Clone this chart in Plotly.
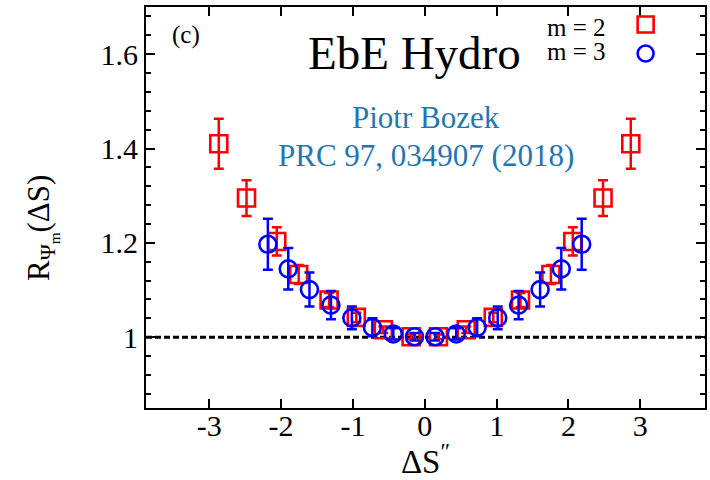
import plotly.graph_objects as go

# ---- data ----
m2_x = [-2.867, -2.481, -2.06, -1.755, -1.332, -0.953, -0.577, -0.19,
        0.19, 0.577, 0.953, 1.332, 1.755, 2.06, 2.481, 2.867]
m2_y = [1.41, 1.295, 1.203, 1.133, 1.079, 1.042, 1.016, 1.001,
        1.001, 1.016, 1.042, 1.079, 1.133, 1.203, 1.295, 1.41]
m2_err = [0.053, 0.038, 0.03, 0.02, 0.015, 0.01, 0.007, 0.005,
          0.005, 0.007, 0.01, 0.015, 0.02, 0.03, 0.038, 0.053]

m3_x = [-2.184, -1.9, -1.605, -1.306, -1.015, -0.729, -0.438, -0.143,
        0.143, 0.438, 0.729, 1.015, 1.306, 1.605, 1.9, 2.184]
m3_y = [1.197, 1.145, 1.101, 1.068, 1.041, 1.021, 1.007, 1.001,
        1.001, 1.007, 1.021, 1.041, 1.068, 1.101, 1.145, 1.197]
m3_err = [0.054, 0.044, 0.036, 0.03, 0.024, 0.019, 0.012, 0.008,
          0.008, 0.012, 0.019, 0.024, 0.03, 0.036, 0.044, 0.054]

ref_level = 1.0
x_tickvals = [-3, -2, -1, 0, 1, 2, 3]
x_ticktext = ["-3", "-2", "-1", "0", "1", "2", "3"]
y_tickvals = [1.0, 1.2, 1.4, 1.6]
y_ticktext = ["1", "1.2", "1.4", "1.6"]

FONT = "Liberation Serif, Times New Roman, serif"
RED = "#ff0000"
BLUE = "#0000ff"
CITE = "#1f77b4"

fig = go.Figure()
fig.add_trace(go.Scatter(
    x=m2_x, y=m2_y, mode="markers", name=" ",
    marker=dict(symbol="square-open", size=17, color=RED, line=dict(width=2.6, color=RED)),
    error_y=dict(type="data", array=m2_err, visible=True, color=RED, thickness=2.5, width=5),
))
fig.add_trace(go.Scatter(
    x=m3_x, y=m3_y, mode="markers", name=" ",
    marker=dict(symbol="circle-open", size=17, color=BLUE, line=dict(width=2.6, color=BLUE)),
    error_y=dict(type="data", array=m3_err, visible=True, color=BLUE, thickness=2.5, width=5),
))

fig.add_shape(type="line", xref="paper", x0=0, x1=1, yref="y", y0=ref_level, y1=ref_level,
              line=dict(color="black", width=3, dash="6px,3px"), layer="below")

axis_common = dict(showline=True, linecolor="black", linewidth=2, mirror="ticks",
                   ticks="inside", ticklen=9, tickwidth=1.5, tickcolor="black",
                   showgrid=False, zeroline=False,
                   tickfont=dict(family=FONT, size=30, color="black"))

fig.update_xaxes(range=[-3.88, 3.9], tickvals=x_tickvals, ticktext=x_ticktext,
                 ticklabelstandoff=-10,
                 title=dict(text="ΔS<sup>″</sup>", font=dict(family=FONT, size=33, color="black"), standoff=12),
                 **axis_common)
fig.update_yaxes(range=[0.85, 1.7], tickvals=y_tickvals, ticktext=y_ticktext,
                 minor=dict(dtick=0.04, ticks="inside", ticklen=5, tickwidth=1.5, tickcolor="black"),
                 **axis_common)

ann = [
    dict(text="R<sub>Ψ<sub>m</sub></sub>(ΔS)", x=-0.187, y=0.45, textangle=-90,
         font=dict(family=FONT, size=31, color="black")),
    dict(text="(c)", x=0.072, y=0.93, font=dict(family=FONT, size=25, color="black")),
    dict(text="EbE Hydro", x=0.48, y=0.885, font=dict(family=FONT, size=47, color="black")),
    dict(text="Piotr Bozek", x=0.5, y=0.724, font=dict(family=FONT, size=31, color=CITE)),
    dict(text="PRC 97, 034907 (2018)", x=0.5, y=0.63, font=dict(family=FONT, size=31, color=CITE)),
    dict(text="m = 2", x=0.827, y=0.948, xanchor="right", font=dict(family=FONT, size=25, color="black")),
    dict(text="m = 3", x=0.827, y=0.89, xanchor="right", font=dict(family=FONT, size=25, color="black")),
]
for a in ann:
    a.setdefault("xanchor", "center")
    a.update(xref="paper", yref="paper", showarrow=False, yanchor="middle")
    fig.add_annotation(**a)

fig.update_layout(
    width=710, height=480,
    margin=dict(l=146, r=3, t=7, b=71),
    paper_bgcolor="white", plot_bgcolor="white",
    font=dict(family=FONT, color="black"),
    showlegend=True,
    legend=dict(x=0.858, y=1.005, xanchor="left", yanchor="top", bgcolor="rgba(0,0,0,0)",
                font=dict(family=FONT, size=20), tracegroupgap=0, itemwidth=30),
)

fig.write_html("out.html")
